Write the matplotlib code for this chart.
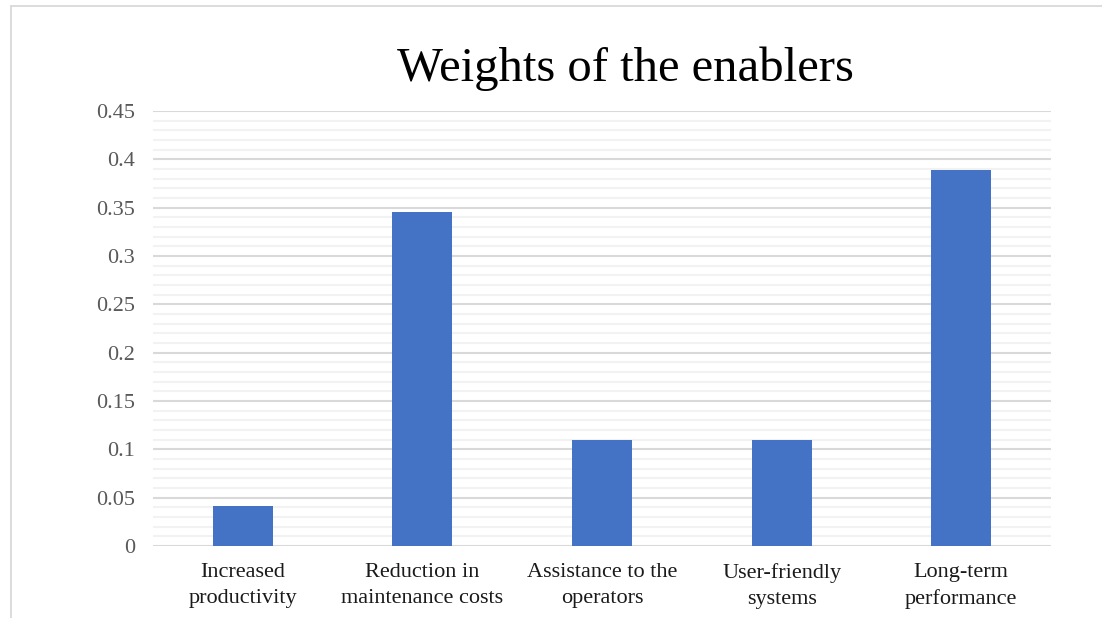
import matplotlib.pyplot as plt
import numpy as np
from matplotlib.patches import Rectangle
from matplotlib.ticker import MultipleLocator

categories = ["Increased\nproductivity", "Reduction in\nmaintenance costs",
              "Assistance to the\noperators", "User-friendly\nsystems",
              "Long-term\nperformance"]
weights = [0.041, 0.346, 0.110, 0.110, 0.389]
yticks = [0, 0.05, 0.1, 0.15, 0.2, 0.25, 0.3, 0.35, 0.4, 0.45]
ytick_labels = ["0", "0.05", "0.1", "0.15", "0.2", "0.25", "0.3", "0.35", "0.4", "0.45"]

plt.rcParams['font.family'] = ['Liberation Serif', 'DejaVu Serif']

fig = plt.figure(figsize=(11.02, 6.18), dpi=100)
ax = fig.add_axes([0.1388, 0.1165, 0.815, 0.7039])

# light frame round the chart (clipped at right/bottom like the screenshot)
fig.patches.append(Rectangle((11/1102, -0.05), 1.2, 1 - 6/618 + 0.05,
                             transform=fig.transFigure, fill=False,
                             edgecolor="#d9d9d9", linewidth=1.3))

x = np.arange(len(categories))
ax.bar(x, weights, width=0.334, color="#4472C4", zorder=3)

ax.set_xlim(-0.5, len(categories) - 0.5)
ax.set_ylim(0, 0.45)
ax.set_yticks(yticks)
ax.set_yticklabels(ytick_labels)
ax.yaxis.set_minor_locator(MultipleLocator(0.01))
ax.set_xticks(x)
ax.set_xticklabels(categories, fontsize=16, color="#1a1a1a", linespacing=1.5)
ax.tick_params(axis='y', labelsize=16, labelcolor="#595959", length=0, pad=13)
ax.tick_params(axis='y', which='minor', length=0)
ax.tick_params(axis='x', length=0, pad=12)

ax.grid(axis='y', which='minor', color="#f2f2f2", linewidth=1.5, zorder=0)
ax.grid(axis='y', which='major', color="#d9d9d9", linewidth=1.5, zorder=1)
for s in ax.spines.values():
    s.set_visible(False)

fig.text(0.568, 0.888, "Weights of the enablers", ha='center', va='center',
         fontsize=35, color="#000000")

fig.savefig("out.png", dpi=100)
